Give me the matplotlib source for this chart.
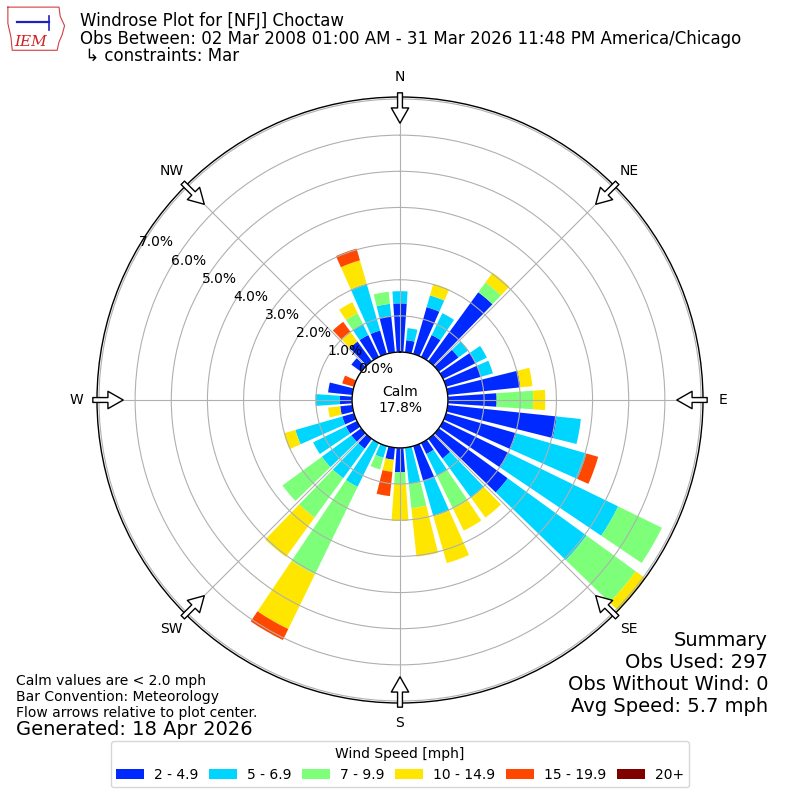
import numpy as np
import matplotlib
matplotlib.use("Agg")
import matplotlib.pyplot as plt
from matplotlib.patches import Patch

directions = list(range(0, 360, 10))
speed_labels = ["2 - 4.9", "5 - 6.9", "7 - 9.9", "10 - 14.9", "15 - 19.9", "20+"]
obs_used = 297
calm_text = "17.8%"
spd_2_5 = [4, 1, 4, 2, 7, 2, 3, 3, 6, 4, 9, 6, 6, 7, 2, 1, 3, 0,
           2, 1, 0, 0, 1, 1, 1, 1, 1, 1, 2, 0, 0, 1, 2, 2, 2, 3]
spd_5_7 = [1, 1, 1, 2, 0, 1, 1, 1, 0, 0, 2, 6, 10, 8, 4, 2, 3, 3,
           0, 0, 1, 4, 3, 3, 3, 4, 0, 2, 0, 0, 0, 0, 0, 1, 4, 1]
spd_7_10 = [0, 0, 0, 0, 1, 0, 0, 0, 0, 3, 0, 0, 4, 5, 0, 3, 0, 2,
            1, 0, 1, 8, 4, 4, 0, 0, 0, 0, 0, 0, 0, 0, 0, 1, 0, 1]
spd_10_15 = [0, 0, 1, 0, 1, 0, 0, 0, 1, 1, 0, 0, 0, 1, 2, 2, 4, 4,
             3, 1, 0, 5, 4, 0, 0, 1, 1, 0, 0, 0, 0, 0, 1, 1, 2, 0]
spd_15_20 = [0, 0, 0, 0, 0, 0, 0, 0, 0, 0, 0, 1, 0, 0, 0, 0, 0, 0,
             0, 2, 0, 1, 0, 0, 0, 0, 0, 0, 0, 1, 0, 0, 1, 0, 1, 0]
spd_20p = [0] * 36
radial_ticks = [0, 1, 2, 3, 4, 5, 6, 7]
compass = ["N", "NE", "E", "SE", "S", "SW", "W", "NW"]

speed_bins = [spd_2_5, spd_5_7, spd_7_10, spd_10_15, spd_15_20, spd_20p]
colors = plt.cm.jet(np.linspace(0, 1, 7))[1:]

fig = plt.figure(figsize=(8, 8), dpi=100)
ax = fig.add_axes([0.12125, 0.12125, 0.7575, 0.7575], projection="polar")
ax.set_theta_zero_location("N")
ax.set_theta_direction(-1)

rmax = 7.055
hole = 1.326
theta = np.deg2rad(directions)
width = np.deg2rad(8)
bottom = np.zeros(len(directions))
for counts, col, lab in zip(speed_bins, colors, speed_labels):
    vals = np.array(counts, dtype=float) / obs_used * 100.0
    ax.bar(theta, vals, width=width, bottom=bottom, color=col,
           linewidth=0, zorder=1)
    bottom += vals

ax.set_ylim(0, rmax)
ax.set_rorigin(-hole)
ax.set_xticks(np.deg2rad(np.arange(0, 360, 45)))
ax.set_xticklabels([])
ax.set_yticks(radial_ticks)
ax.set_yticklabels([f"{v:.1f}%" for v in radial_ticks], fontsize=10)
ax.set_rlabel_position(300)
ax.grid(True, color="#b0b0b0", linewidth=0.8)
for sp in ax.spines.values():
    sp.set_linewidth(1.0)

# compass labels
for i, lab in enumerate(compass):
    ax.text(np.deg2rad(i * 45), 7.62, lab, ha="center", va="center", fontsize=10)

# flow arrows
for i in range(8):
    t = np.deg2rad(i * 45)
    ax.annotate("", xy=(t, 6.33), xytext=(t, 7.17),
                arrowprops=dict(arrowstyle="simple,head_length=1.1,head_width=1.25,tail_width=0.35",
                                fc="white", ec="black", lw=1, shrinkA=0, shrinkB=0,
                                mutation_scale=10),
                annotation_clip=False, zorder=6)

fig.text(0.5, 0.5, "Calm\n" + calm_text, ha="center", va="center", fontsize=10)

# header
fig.text(0.1, 1 - 26 / 800, "Windrose Plot for [NFJ] Choctaw", fontsize=12, va="baseline")
fig.text(0.1, 1 - 43.5 / 800,
         "Obs Between: 02 Mar 2008 01:00 AM - 31 Mar 2026 11:48 PM America/Chicago",
         fontsize=12, va="baseline")
fig.text(0.1, 1 - 60.5 / 800, " \u21b3 constraints: Mar", fontsize=12, va="baseline")

# logo approximation
lax = fig.add_axes([0.006, 0.936, 0.077, 0.058])
lax.set_xlim(0, 1)
lax.set_ylim(0, 1)
lax.axis("off")
lax.plot([0.05, 0.88, 0.9, 0.97, 0.93, 0.88, 0.85, 0.12, 0.1, 0.05, 0.05],
         [0.95, 0.95, 0.75, 0.55, 0.35, 0.2, 0.02, 0.02, 0.3, 0.6, 0.95],
         color="#d04040", lw=0.8)
lax.plot([0.2, 0.72], [0.62, 0.62], color="#2020c0", lw=1.6)
lax.plot([0.72, 0.72], [0.45, 0.75], color="#2020c0", lw=1.2)
lax.text(0.42, 0.2, "IEM", color="#d02020", fontsize=11, family="DejaVu Serif",
         style="italic", ha="center", va="center")

# bottom left notes
fig.text(0.02, 1 - 685 / 800, "Calm values are < 2.0 mph", fontsize=10, va="baseline")
fig.text(0.02, 1 - 701 / 800, "Bar Convention: Meteorology", fontsize=10, va="baseline")
fig.text(0.02, 1 - 717 / 800, "Flow arrows relative to plot center.", fontsize=10, va="baseline")
fig.text(0.02, 1 - 735 / 800, "Generated: 18 Apr 2026", fontsize=14, va="baseline")

# summary
summary = ["Summary", f"Obs Used: {obs_used}", "Obs Without Wind: 0", "Avg Speed: 5.7 mph"]
for i, s in enumerate(summary):
    fig.text(0.96, 1 - (646 + 22 * i) / 800, s, fontsize=14, ha="right", va="baseline")

handles = [Patch(facecolor=c, label=l) for c, l in zip(colors, speed_labels)]
fig.legend(handles=handles, loc="lower center", bbox_to_anchor=(0.5, 0.007), ncol=6,
           title="Wind Speed [mph]", fontsize=10, title_fontsize=10,
           columnspacing=0.8, handletextpad=0.7)

fig.savefig("out.png", dpi=100)
